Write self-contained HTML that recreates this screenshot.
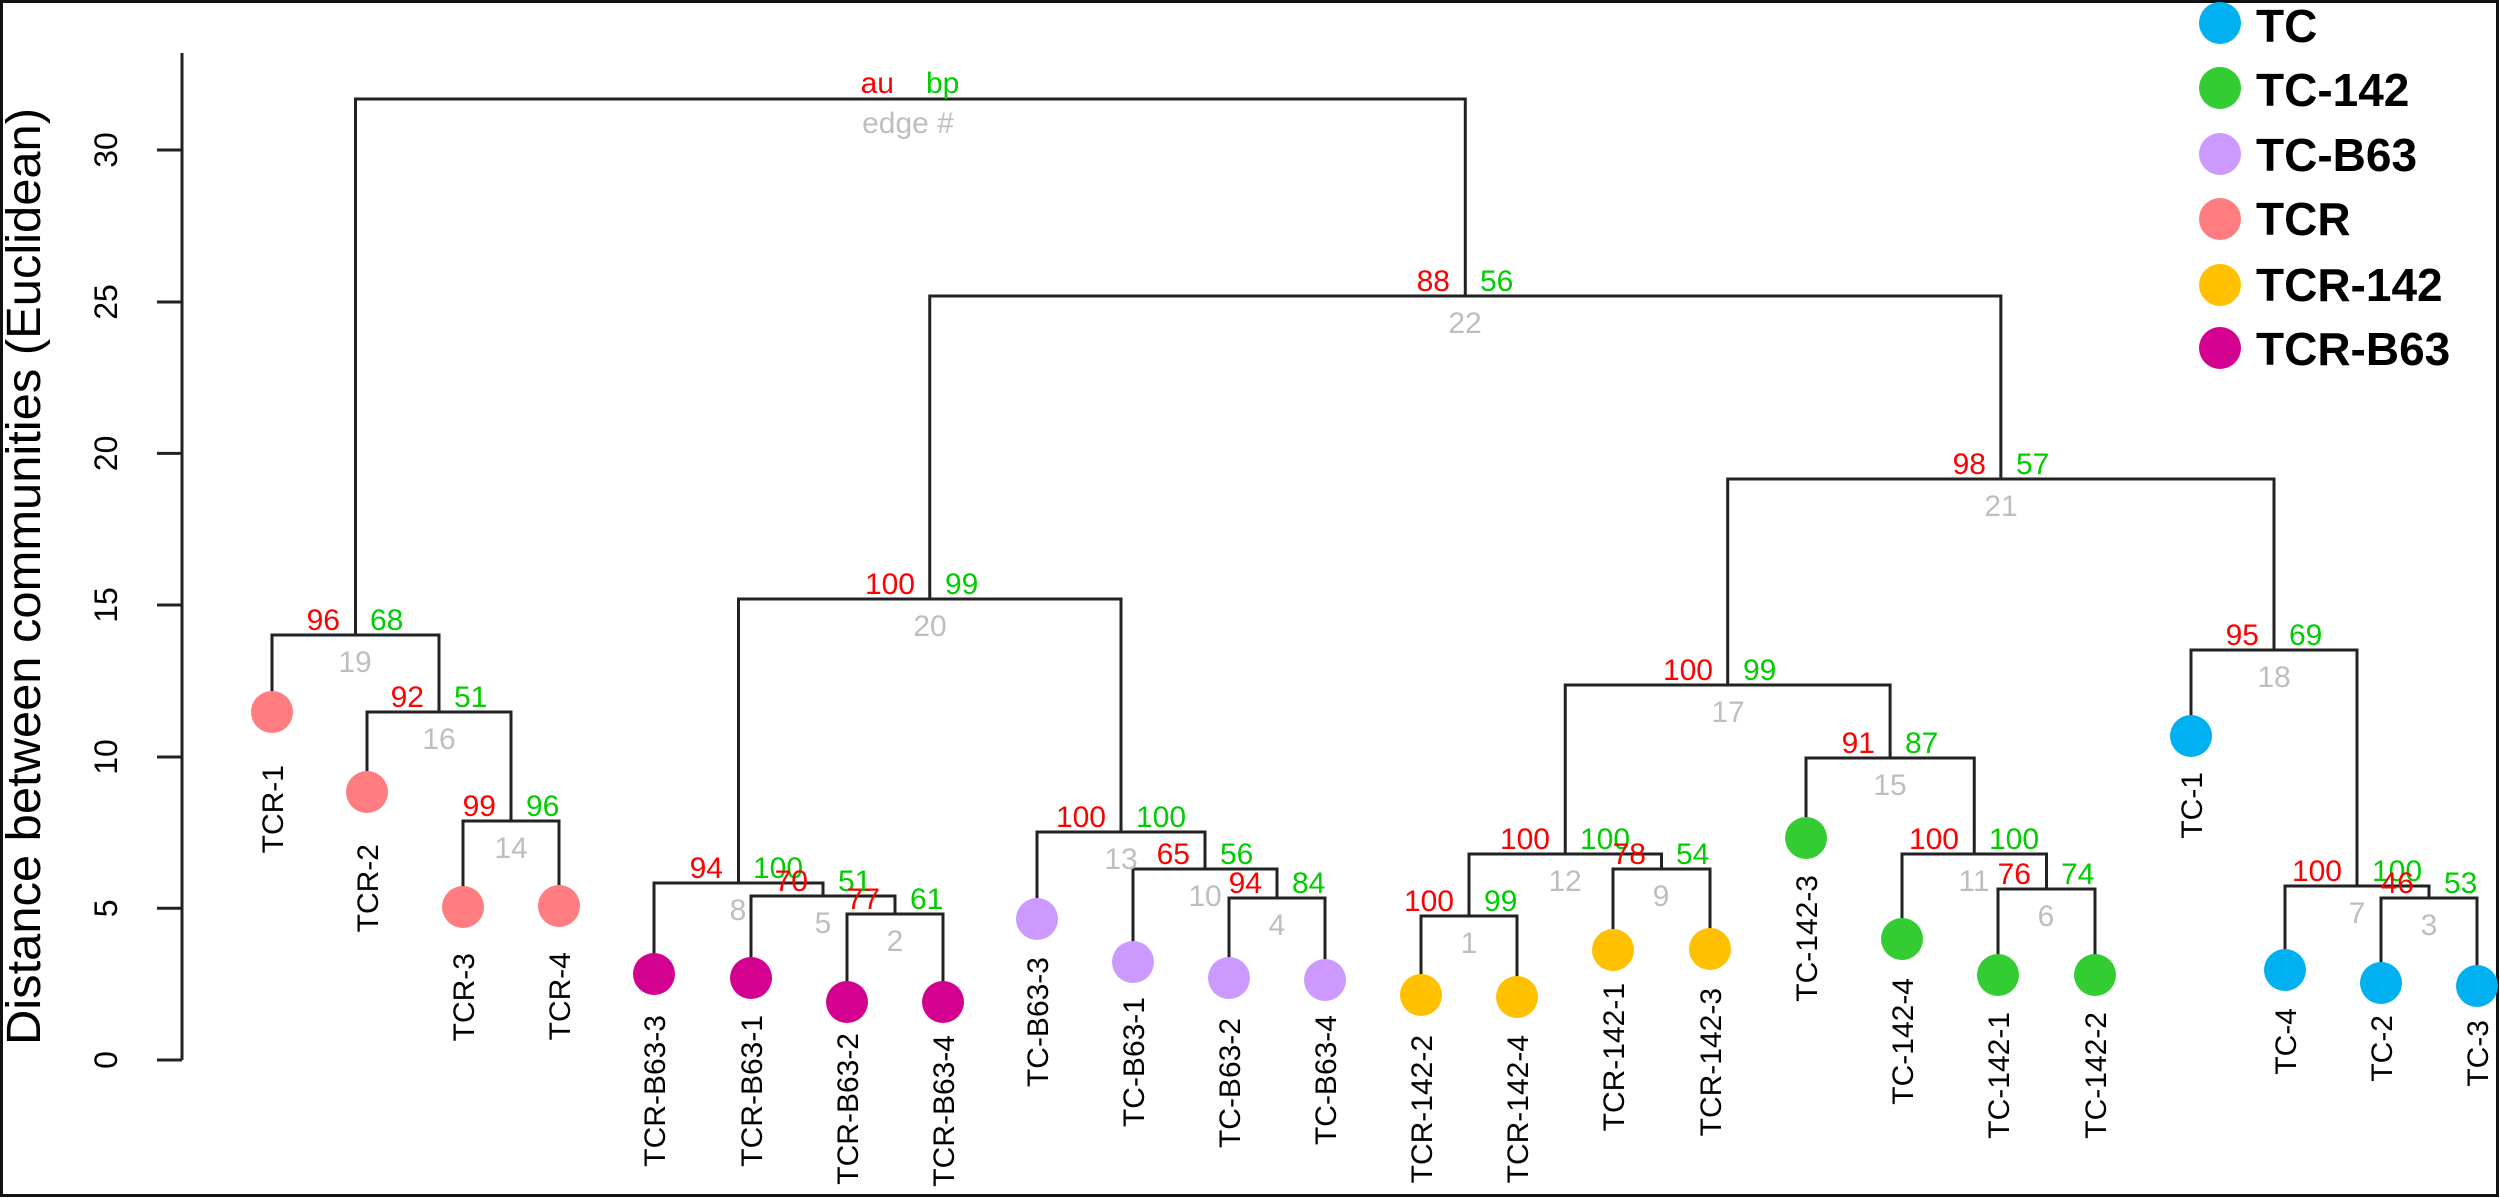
<!DOCTYPE html>
<html>
<head>
<meta charset="utf-8">
<style>
  html, body { margin: 0; padding: 0; background: #ffffff; }
  svg { display: block; }
  text { font-family: "Liberation Sans", Arial, sans-serif; }
  .au { fill: #ff0000; font-size: 30px; text-anchor: end; }
  .bp { fill: #00cd00; font-size: 30px; text-anchor: start; }
  .ed { fill: #bebebe; font-size: 30px; text-anchor: middle; }
  .lf { fill: #000; font-size: 30px; text-anchor: end; }
  .tk { fill: #000; font-size: 32px; text-anchor: middle; }
  .lg { fill: #000; font-size: 46px; font-weight: bold; }
  .tree path { fill: none; stroke: #222; stroke-width: 3; }
</style>
</head>
<body>
<svg width="2500" height="1198" viewBox="0 0 2500 1198" xmlns="http://www.w3.org/2000/svg">
  <rect x="0" y="0" width="2500" height="1198" fill="#ffffff"/>
  <rect x="1.5" y="1.5" width="2496" height="1194" fill="none" stroke="#111" stroke-width="3"/>

  <!-- Y axis -->
  <g stroke="#222" stroke-width="3" fill="none">
    <path d="M182 53 V1060"/>
    <path d="M157 1060 H182"/>
    <path d="M157 908.3 H182"/>
    <path d="M157 757 H182"/>
    <path d="M157 605 H182"/>
    <path d="M157 453.4 H182"/>
    <path d="M157 302 H182"/>
    <path d="M157 150 H182"/>
  </g>
  <text class="tk" transform="translate(117,1060) rotate(-90)">0</text>
  <text class="tk" transform="translate(117,908.3) rotate(-90)">5</text>
  <text class="tk" transform="translate(117,757) rotate(-90)">10</text>
  <text class="tk" transform="translate(117,605) rotate(-90)">15</text>
  <text class="tk" transform="translate(117,453.4) rotate(-90)">20</text>
  <text class="tk" transform="translate(117,302) rotate(-90)">25</text>
  <text class="tk" transform="translate(117,150) rotate(-90)">30</text>
  <text transform="translate(40,576.5) rotate(-90)" text-anchor="middle" font-size="48" textLength="937" lengthAdjust="spacingAndGlyphs" fill="#000">Distance between communities (Euclidean)</text>

  <!-- Tree -->
  <g class="tree">
    <path d="M1421 995 V916 H1517 V997"/>
    <path d="M847 1002 V914 H943 V1002"/>
    <path d="M2381 983 V898 H2477 V986"/>
    <path d="M1229 978 V898 H1325 V980"/>
    <path d="M751 978 V896 H895 V914"/>
    <path d="M1998 975 V889 H2095 V975"/>
    <path d="M2285 970 V886 H2429 V898"/>
    <path d="M654 974 V883 H823 V896"/>
    <path d="M1613 950 V869 H1710 V949"/>
    <path d="M1133 962 V869 H1277 V898"/>
    <path d="M1902 939 V854 H2046.5 V889"/>
    <path d="M1469 916 V854 H1661.5 V869"/>
    <path d="M1037 919 V832 H1205 V869"/>
    <path d="M463 907 V821 H559 V906"/>
    <path d="M1806 838 V758 H1974.25 V854"/>
    <path d="M367 792 V712 H511 V821"/>
    <path d="M1565.25 854 V685 H1890.1 V758"/>
    <path d="M2191 736 V650 H2357 V886"/>
    <path d="M272 712 V635 H439 V712"/>
    <path d="M738.5 883 V599 H1121 V832"/>
    <path d="M1727.7 685 V479 H2274 V650"/>
    <path d="M929.75 599 V296 H2000.85 V479"/>
    <path d="M355.5 635 V99 H1465.3 V296"/>
  </g>

  <!-- Leaf circles -->
  <g>
    <circle cx="272" cy="712" r="21" fill="#ff7c80"/>
    <circle cx="367" cy="792" r="21" fill="#ff7c80"/>
    <circle cx="463" cy="907" r="21" fill="#ff7c80"/>
    <circle cx="559" cy="906" r="21" fill="#ff7c80"/>
    <circle cx="654" cy="974" r="21" fill="#d4008f"/>
    <circle cx="751" cy="978" r="21" fill="#d4008f"/>
    <circle cx="847" cy="1002" r="21" fill="#d4008f"/>
    <circle cx="943" cy="1002" r="21" fill="#d4008f"/>
    <circle cx="1037" cy="919" r="21" fill="#cc99ff"/>
    <circle cx="1133" cy="962" r="21" fill="#cc99ff"/>
    <circle cx="1229" cy="978" r="21" fill="#cc99ff"/>
    <circle cx="1325" cy="980" r="21" fill="#cc99ff"/>
    <circle cx="1421" cy="995" r="21" fill="#ffc000"/>
    <circle cx="1517" cy="997" r="21" fill="#ffc000"/>
    <circle cx="1613" cy="950" r="21" fill="#ffc000"/>
    <circle cx="1710" cy="949" r="21" fill="#ffc000"/>
    <circle cx="1806" cy="838" r="21" fill="#33cc33"/>
    <circle cx="1902" cy="939" r="21" fill="#33cc33"/>
    <circle cx="1998" cy="975" r="21" fill="#33cc33"/>
    <circle cx="2095" cy="975" r="21" fill="#33cc33"/>
    <circle cx="2191" cy="736" r="21" fill="#00b0f0"/>
    <circle cx="2285" cy="970" r="21" fill="#00b0f0"/>
    <circle cx="2381" cy="983" r="21" fill="#00b0f0"/>
    <circle cx="2477" cy="986" r="21" fill="#00b0f0"/>
  </g>

  <!-- Leaf labels -->
  <g>
    <text class="lf" transform="translate(283,765) rotate(-90)">TCR-1</text>
    <text class="lf" transform="translate(378,844) rotate(-90)">TCR-2</text>
    <text class="lf" transform="translate(474,953) rotate(-90)">TCR-3</text>
    <text class="lf" transform="translate(570,952) rotate(-90)">TCR-4</text>
    <text class="lf" transform="translate(665,1015) rotate(-90)">TCR-B63-3</text>
    <text class="lf" transform="translate(762,1015) rotate(-90)">TCR-B63-1</text>
    <text class="lf" transform="translate(858,1033) rotate(-90)">TCR-B63-2</text>
    <text class="lf" transform="translate(954,1035) rotate(-90)">TCR-B63-4</text>
    <text class="lf" transform="translate(1048,957) rotate(-90)">TC-B63-3</text>
    <text class="lf" transform="translate(1144,997) rotate(-90)">TC-B63-1</text>
    <text class="lf" transform="translate(1240,1018) rotate(-90)">TC-B63-2</text>
    <text class="lf" transform="translate(1336,1015) rotate(-90)">TC-B63-4</text>
    <text class="lf" transform="translate(1432,1035) rotate(-90)">TCR-142-2</text>
    <text class="lf" transform="translate(1528,1035) rotate(-90)">TCR-142-4</text>
    <text class="lf" transform="translate(1624,983) rotate(-90)">TCR-142-1</text>
    <text class="lf" transform="translate(1721,988) rotate(-90)">TCR-142-3</text>
    <text class="lf" transform="translate(1817,875) rotate(-90)">TC-142-3</text>
    <text class="lf" transform="translate(1913,978) rotate(-90)">TC-142-4</text>
    <text class="lf" transform="translate(2009,1012) rotate(-90)">TC-142-1</text>
    <text class="lf" transform="translate(2106,1012) rotate(-90)">TC-142-2</text>
    <text class="lf" transform="translate(2202,772) rotate(-90)">TC-1</text>
    <text class="lf" transform="translate(2296,1008) rotate(-90)">TC-4</text>
    <text class="lf" transform="translate(2392,1015) rotate(-90)">TC-2</text>
    <text class="lf" transform="translate(2488,1020) rotate(-90)">TC-3</text>
  </g>

  <!-- Node annotations: au (red), bp (green), edge # (gray) -->
  <g>
    <!-- root -->
    <text class="au" x="894" y="93">au</text>
    <text class="bp" x="926" y="93">bp</text>
    <text class="ed" x="908" y="133">edge #</text>

    <text class="au" x="1450" y="291">88</text><text class="bp" x="1480" y="291">56</text><text class="ed" x="1465" y="333">22</text>
    <text class="au" x="1986" y="474">98</text><text class="bp" x="2016" y="474">57</text><text class="ed" x="2001" y="516">21</text>
    <text class="au" x="915" y="594">100</text><text class="bp" x="945" y="594">99</text><text class="ed" x="930" y="636">20</text>
    <text class="au" x="340" y="630">96</text><text class="bp" x="370" y="630">68</text><text class="ed" x="355" y="672">19</text>
    <text class="au" x="2259" y="645">95</text><text class="bp" x="2289" y="645">69</text><text class="ed" x="2274" y="687">18</text>
    <text class="au" x="1713" y="680">100</text><text class="bp" x="1743" y="680">99</text><text class="ed" x="1728" y="722">17</text>
    <text class="au" x="424" y="707">92</text><text class="bp" x="454" y="707">51</text><text class="ed" x="439" y="749">16</text>
    <text class="au" x="1875" y="753">91</text><text class="bp" x="1905" y="753">87</text><text class="ed" x="1890" y="795">15</text>
    <text class="au" x="496" y="816">99</text><text class="bp" x="526" y="816">96</text><text class="ed" x="511" y="858">14</text>
    <text class="au" x="1106" y="827">100</text><text class="bp" x="1136" y="827">100</text><text class="ed" x="1121" y="869">13</text>
    <text class="au" x="1550" y="849">100</text><text class="bp" x="1580" y="849">100</text><text class="ed" x="1565" y="891">12</text>
    <text class="au" x="1959" y="849">100</text><text class="bp" x="1989" y="849">100</text><text class="ed" x="1974" y="891">11</text>
    <text class="au" x="1190" y="864">65</text><text class="bp" x="1220" y="864">56</text><text class="ed" x="1205" y="906">10</text>
    <text class="au" x="1646" y="864">78</text><text class="bp" x="1676" y="864">54</text><text class="ed" x="1661" y="906">9</text>
    <text class="au" x="723" y="878">94</text><text class="bp" x="753" y="878">100</text><text class="ed" x="738" y="920">8</text>
    <text class="au" x="2342" y="881">100</text><text class="bp" x="2372" y="881">100</text><text class="ed" x="2357" y="923">7</text>
    <text class="au" x="2031" y="884">76</text><text class="bp" x="2061" y="884">74</text><text class="ed" x="2046" y="926">6</text>
    <text class="au" x="808" y="891">70</text><text class="bp" x="838" y="891">51</text><text class="ed" x="823" y="933">5</text>
    <text class="au" x="1262" y="893">94</text><text class="bp" x="1292" y="893">84</text><text class="ed" x="1277" y="935">4</text>
    <text class="au" x="2414" y="893">46</text><text class="bp" x="2444" y="893">53</text><text class="ed" x="2429" y="935">3</text>
    <text class="au" x="880" y="909">77</text><text class="bp" x="910" y="909">61</text><text class="ed" x="895" y="951">2</text>
    <text class="au" x="1454" y="911">100</text><text class="bp" x="1484" y="911">99</text><text class="ed" x="1469" y="953">1</text>
  </g>

  <!-- Legend -->
  <g>
    <circle cx="2220" cy="23" r="21" fill="#00b0f0"/>
    <circle cx="2220" cy="88" r="21" fill="#33cc33"/>
    <circle cx="2220" cy="154" r="21" fill="#cc99ff"/>
    <circle cx="2220" cy="219" r="21" fill="#ff7c80"/>
    <circle cx="2220" cy="285" r="21" fill="#ffc000"/>
    <circle cx="2220" cy="348" r="21" fill="#d4008f"/>
    <text class="lg" x="2256" y="42">TC</text>
    <text class="lg" x="2256" y="106">TC-142</text>
    <text class="lg" x="2256" y="171">TC-B63</text>
    <text class="lg" x="2256" y="235">TCR</text>
    <text class="lg" x="2256" y="301">TCR-142</text>
    <text class="lg" x="2256" y="365">TCR-B63</text>
  </g>
</svg>
</body>
</html>
